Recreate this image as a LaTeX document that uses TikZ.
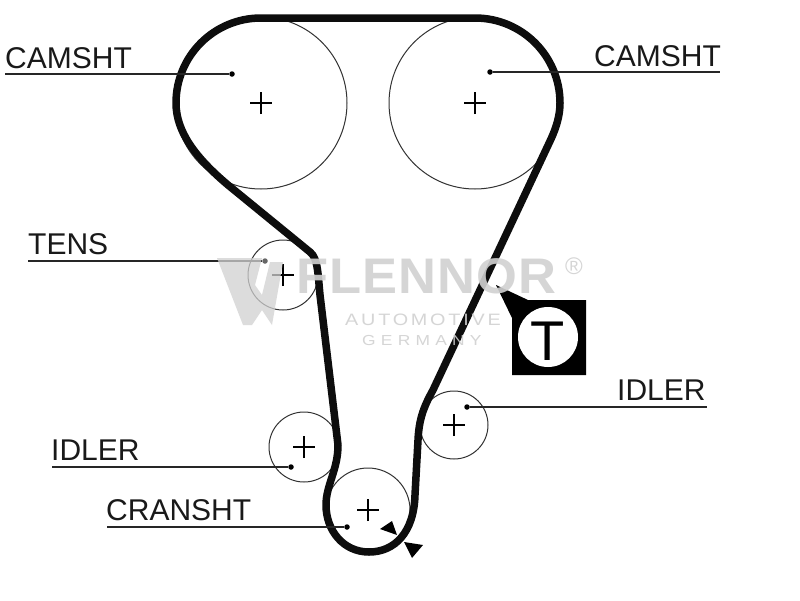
\documentclass[tikz,border=0pt]{standalone}
\usepackage{fontspec}
\setmainfont{Liberation Sans}
\newfontfamily\wmA[LetterSpace=2]{Liberation Sans Bold}
\newfontfamily\wmB[LetterSpace=14]{Liberation Sans}
\newfontfamily\wmC[LetterSpace=30]{Liberation Sans}
\definecolor{wm}{gray}{0.82}
\tikzset{
  pulley/.style={circle,draw=black!80,line width=1pt,inner sep=0pt,fill=none},
  belt/.style={line width=7.5pt,black!95,line join=round,line cap=round},
  leader/.style={line width=1.2pt,black!85},
  lab/.style={font=\fontsize{30}{30}\selectfont,inner sep=0pt,anchor=base west,text=black!90},
  dotn/.style={circle,fill=black,inner sep=0pt,minimum size=5.5pt},
  crossh/.style={line width=1.1pt,black},
  wmtext/.style={text=wm,inner sep=0pt,opacity=.9},
}
\begin{document}
\begin{tikzpicture}[x=1pt,y=-1pt]
\useasboundingbox (0,0) rectangle (800,600);
\fill[white] (0,0) rectangle (800,600);
% pulleys
\node[pulley,minimum size=172pt] (camL) at (261,103) {};
\node[pulley,minimum size=172pt] (camR) at (475,103) {};
\node[pulley,minimum size=70pt] (tens) at (283,275) {};
\node[pulley,minimum size=70pt] (idL) at (304,447) {};
\node[pulley,minimum size=68pt] (idR) at (454,425) {};
\node[pulley,minimum size=84pt] (cran) at (368,510) {};
% hub crosses
\foreach \n in {camL,camR,tens,idL,idR,cran}{
  \draw[crossh] ([xshift=-11pt]\n.center) -- ([xshift=11pt]\n.center);
  \draw[crossh] ([yshift=-11pt]\n.center) -- ([yshift=11pt]\n.center);
}
% belt
\draw[belt]
  (475,18) .. controls (522,18) and (560,56) .. (560,103)
  .. controls (560,116) and (556,128) .. (551,139)
  -- (433,390)
  .. controls (423,408) and (419,420) .. (418,440)
  -- (415,495)
  .. controls (414,532) and (395,552) .. (369,552)
  .. controls (343,552) and (326,530) .. (326,505)
  .. controls (326,485) and (338,470) .. (338,445)
  -- (320,295)
  .. controls (318,275) and (318,258) .. (310,252)
  -- (228,185)
  .. controls (196,158) and (176,132) .. (176,103)
  .. controls (176,56) and (214,18) .. (261,18)
  -- cycle;
% leaders and labels
\node[dotn] (d1) at (232,74) {};
\coordinate (l1) at (5,74);
\draw[leader] (l1) -- (d1);
\node[lab] (t1) at (5,68) {CAMSHT};
\node[dotn] (d2) at (490,72) {};
\coordinate (l2) at (720,72);
\draw[leader] (d2) -- (l2);
\node[lab] (t2) at (594,66) {CAMSHT};
\node[dotn,fill=black!60] (d3) at (265,261) {};
\coordinate (l3) at (28,261);
\draw[leader] (l3) -- (d3);
\node[lab] (t3) at (28,254) {TENS};
\node[dotn] (d4) at (291,467) {};
\coordinate (l4) at (52,467);
\draw[leader] (l4) -- (d4);
\node[lab] (t4) at (51,460) {IDLER};
\node[dotn] (d5) at (347,527) {};
\coordinate (l5) at (107,527);
\draw[leader] (l5) -- (d5);
\node[lab] (t5) at (106,520) {CRANSHT};
\node[dotn] (d6) at (467,407) {};
\coordinate (l6) at (707,407);
\draw[leader] (d6) -- (l6);
\node[lab] (t6) at (617,400) {IDLER};
% timing marks
\fill[black] (380,529) -- (392,521) -- (397,535) -- cycle;
\fill[black] (404,542) -- (423,545) -- (412,558) -- cycle;
% T badge
\fill[black] (496,285) -- (528,300) -- (586,300) -- (586,375) -- (512,375) -- (512,318) -- cycle;
\node[circle,fill=white,inner sep=0pt,minimum size=60pt] (tb) at (548,337) {};
\node[font=\fontsize{56}{56}\selectfont,inner sep=0pt,text=black] at (548,341) {T};
% watermark
\fill[wm,opacity=.75] (217,258) -- (262,258) -- (255,285) -- (262,295) -- (270,262) -- (283,262) -- (272,325) -- (262,310) -- (252,325) -- (243,325) -- cycle;
\node[wmtext,anchor=base west,xscale=1.05] (wm1) at (296,293) {\fontsize{50}{50}\selectfont\wmA FLENNOR};
\node[wmtext,font=\fontsize{24}{24}\selectfont] (wm2) at (574,266) {®};
\node[wmtext,anchor=base west,xscale=1.2] (wm3) at (345,325) {\fontsize{16.5}{17}\selectfont\wmB AUTOMOTIVE};
\node[wmtext,anchor=base west,xscale=1.2] (wm4) at (362,345) {\fontsize{14.5}{15}\selectfont\wmC GERMANY};
\end{tikzpicture}
\end{document}
